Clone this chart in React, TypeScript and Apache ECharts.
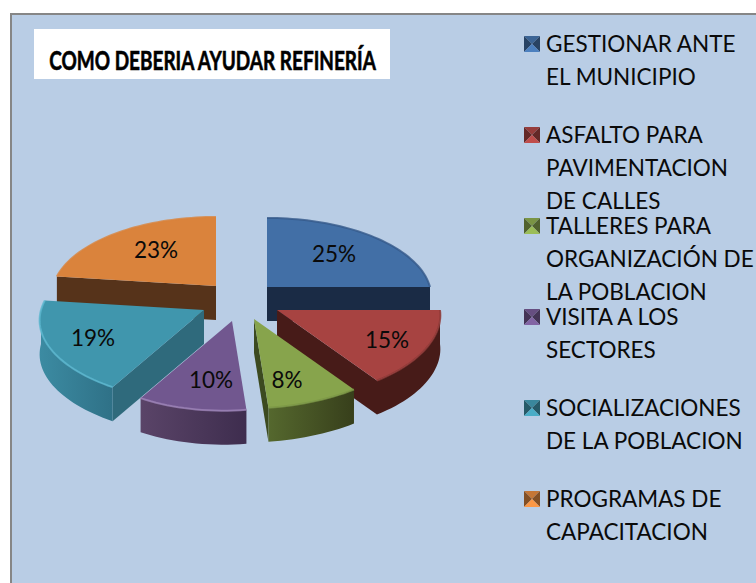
import React, { useEffect, useRef } from "react";
import * as echarts from "echarts";

const titleText = "COMO DEBERIA AYUDAR REFINERÍA";
const categories = [
  "GESTIONAR ANTE EL MUNICIPIO",
  "ASFALTO PARA PAVIMENTACION DE CALLES",
  "TALLERES PARA ORGANIZACIÓN DE LA POBLACION",
  "VISITA A LOS SECTORES",
  "SOCIALIZACIONES DE LA POBLACION",
  "PROGRAMAS DE CAPACITACION",
];
const legendLabels = [
  "GESTIONAR ANTE\nEL MUNICIPIO",
  "ASFALTO PARA\nPAVIMENTACION\nDE CALLES",
  "TALLERES PARA\nORGANIZACIÓN DE\nLA POBLACION",
  "VISITA A LOS\nSECTORES",
  "SOCIALIZACIONES\nDE LA POBLACION",
  "PROGRAMAS DE\nCAPACITACION",
];
const values = [25, 15, 8, 10, 19, 23];

const colors = ["#426fa6", "#a74341", "#87a44c", "#71578f", "#4096ad", "#da833c"];
const radialSide = ["#1a2b45", "#471b18", "#3c4a20", "#3e2d4e", "#2f6a7c", "#56331a"];
const arcLeft = ["#1a2b45", "#471b18", "#55682e", "#5a4468", "#3c8ba2", "#56331a"];
const arcRight = ["#1a2b45", "#471b18", "#373f1b", "#3e2d4e", "#2f7187", "#56331a"];
const rimColor = ["#35598a", "#8f3836", "#7c9745", "#9d83b8", "#5cb8cf", "#da833c"];

// layout of the exploded, tilted pie (pixels in the page)
const apexX = [267, 277, 254, 232, 204, 216];
const apexY = [287, 310, 319, 321, 310, 286];
const labelX = [334, 387, 287, 211, 93, 156];
const labelY = [253, 339, 379, 379, 337, 249];
const drawOrder = [0, 5, 1, 4, 3, 2];
const RX = 163;
const RY = 78;
const PERSPECTIVE = 0.13;
const DEPTH = 34;

const total = values.reduce((a, b) => a + b, 0);
const startAngles: number[] = [];
values.reduce((acc, v, i) => {
  startAngles[i] = (acc / total) * 360;
  return acc + v;
}, 0);

function project(i: number, deg: number, dy = 0): number[] {
  const t = (deg * Math.PI) / 180;
  const u = Math.sin(t);
  const v = -Math.cos(t);
  const s = 1 / (1 - PERSPECTIVE * v);
  const sx = u > 0 && v > 0 ? 1 + (s - 1) * 0.5 : s;
  const lean = v > 0 ? 8 * Math.pow(v, 8) : 0;
  return [apexX[i] + RX * u * sx - lean, apexY[i] + RY * v * s + dy];
}

function arc(i: number, a0: number, a1: number, dy = 0): number[][] {
  const n = Math.max(2, Math.ceil(Math.abs(a1 - a0) / 2));
  const pts: number[][] = [];
  for (let k = 0; k <= n; k++) pts.push(project(i, a0 + ((a1 - a0) * k) / n, dy));
  return pts;
}

function renderSlice(params: any, api: any) {
  const value = api.value(0);
  const i = api.value(1);
  const a0 = startAngles[i];
  const a1 = a0 + (value / total) * 360;
  const apex = [apexX[i], apexY[i]];
  const apexLow = [apexX[i], apexY[i] + DEPTH];
  const children: any[] = [];

  // radial wall facing the viewer
  const wallAngle = Math.sin((a1 * Math.PI) / 180) > 0.01 ? a1 : Math.sin((a0 * Math.PI) / 180) < -0.01 ? a0 : null;
  if (wallAngle !== null) {
    children.push({
      type: "polygon",
      shape: { points: [apex, project(i, wallAngle), project(i, wallAngle, DEPTH), apexLow] },
      style: { fill: radialSide[i] },
    });
  }

  // outer wall: only the front half of the rim can be seen
  const f0 = Math.max(a0, 90);
  const f1 = Math.min(a1, 270);
  if (f1 - f0 >= 1) {
    const top = arc(i, f0, f1);
    const low = arc(i, f0, f1, DEPTH).reverse();
    children.push({
      type: "polygon",
      shape: { points: top.concat(low) },
      style: {
        fill: new echarts.graphic.LinearGradient(0, 0, 1, 0, [
          { offset: 0, color: arcLeft[i] },
          { offset: 1, color: arcRight[i] },
        ]),
      },
    });
  }

  // top face
  children.push({
    type: "polygon",
    shape: { points: [apex].concat(arc(i, a0, a1)) },
    style: { fill: colors[i] },
  });

  // soft bevel along the rim
  children.push({
    type: "polyline",
    shape: { points: arc(i, a0, a1) },
    style: { stroke: rimColor[i], lineWidth: 2, fill: "none", opacity: 0.8 },
  });

  children.push({
    type: "text",
    style: {
      text: `${value}%`,
      x: labelX[i],
      y: labelY[i],
      fill: "#0a0a0a",
      font: "22.5px Lato",
      textAlign: "center",
      textVerticalAlign: "middle",
    },
  });
  return { type: "group", children };
}

function shade(hex: string, f: number): string {
  const n = parseInt(hex.slice(1), 16);
  const ch = (c: number) => Math.min(255, Math.round(c * f));
  return `rgb(${ch((n >> 16) & 255)},${ch((n >> 8) & 255)},${ch(n & 255)})`;
}

function swatch(x: number, y: number, size: number, color: string) {
  const c = [x + size / 2, y + size / 2];
  const tl = [x, y], tr = [x + size, y], br = [x + size, y + size], bl = [x, y + size];
  const tri = (a: number[], b: number[], fill: string) => ({
    type: "polygon",
    shape: { points: [a, b, c] },
    style: { fill },
  });
  return {
    type: "group",
    children: [
      tri(tl, tr, shade(color, 0.9)),
      tri(tr, br, shade(color, 0.6)),
      tri(tl, bl, shade(color, 0.6)),
      tri(bl, br, shade(color, 1.15)),
    ],
  };
}

export default function App() {
  const ref = useRef<HTMLDivElement>(null);
  useEffect(() => {
    document.body.style.margin = "0";
    document.body.style.background = "#ffffff";
    const chart = echarts.init(ref.current!, undefined, { renderer: "svg" });
    const legendTop = 44;
    const legendStep = 91;
    chart.setOption({
      animation: false,
      graphic: [
        {
          type: "rect",
          shape: { x: 11, y: 14, width: 760, height: 590 },
          style: { fill: "#b9cde5", stroke: "#868686", lineWidth: 2 },
          silent: true,
        },
        {
          type: "rect",
          shape: { x: 34, y: 29, width: 356, height: 50 },
          style: { fill: "#ffffff" },
          silent: true,
        },
        {
          type: "text",
          x: 212.5,
          y: 60,
          scaleX: 0.73,
          style: {
            text: titleText,
            fill: "#000000",
            font: "bold 26px Lato",
            stroke: "#000000",
            lineWidth: 0.6,
            textAlign: "center",
            textVerticalAlign: "middle",
          },
        },
        ...legendLabels.flatMap((label, i) => [
          swatch(524, legendTop + legendStep * i - 8, 16, colors[i]),
          {
            type: "text",
            style: {
              text: label,
              x: 546,
              y: legendTop + legendStep * i - 17.5,
              fill: "#0a0a0a",
              font: "22.5px Lato",
              lineHeight: 33,
              textVerticalAlign: "top",
            },
          },
        ]),
      ],
      series: [
        {
          type: "custom",
          coordinateSystem: "none",
          z: 5,
          renderItem: renderSlice,
          data: drawOrder.map((i) => ({ name: categories[i], value: [values[i], i] })),
        },
      ],
    });
    return () => chart.dispose();
  }, []);
  return <div ref={ref} style={{ width: 756, height: 583 }} />;
}
